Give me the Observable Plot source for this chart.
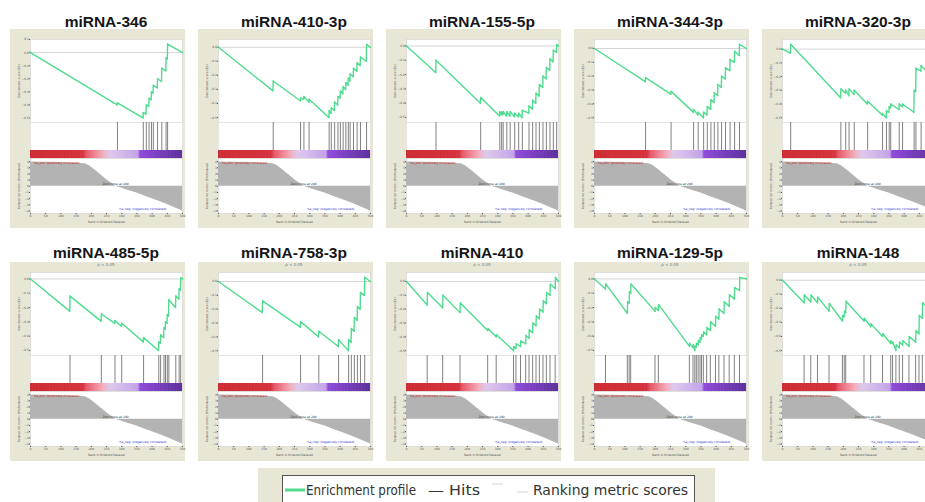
<!DOCTYPE html>
<html><head><meta charset="utf-8">
<script src="https://cdn.jsdelivr.net/npm/d3@7"></script>
<script src="https://cdn.jsdelivr.net/npm/@observablehq/plot@0.6"></script>
<style>
html,body{margin:0;padding:0;background:#fff;width:925px;height:502px;overflow:hidden;}
#root{position:relative;width:925px;height:502px;overflow:hidden;}
.bg{position:absolute;background:#e8e7d6;}
.title{position:absolute;font-family:"Liberation Sans",Arial,sans-serif;font-weight:bold;font-size:15.5px;line-height:16px;color:#161616;text-align:center;white-space:nowrap;}
.sub{position:absolute;font-family:"DejaVu Sans",sans-serif;font-size:4px;line-height:4px;color:#777;text-align:center;white-space:nowrap;}
</style></head><body><div id="root"></div>
<script>
// ---------- data ----------
const titles = ["miRNA-346","miRNA-410-3p","miRNA-155-5p","miRNA-344-3p","miRNA-320-3p",
                "miRNA-485-5p","miRNA-758-3p","miRNA-410","miRNA-129-5p","miRNA-148"];

// running enrichment score vertices [rank, ES]
const es346 = [[0,0],[285,-0.40],[286,-0.385],[370,-0.5],[371,-0.46],[380,-0.47],[381,-0.40],[389,-0.41],[390,-0.35],[397,-0.36],[398,-0.30],[403,-0.31],[404,-0.25],[417,-0.27],[418,-0.20],[431,-0.22],[432,-0.12],[445,-0.14],[446,-0.04],[450,-0.05],[451,0.065],[500,0]];
const es4103p = [[0,0],[179,-0.31],[180,-0.24],[269,-0.38],[270,-0.36],[280,-0.37],[281,-0.35],[297,-0.39],[298,-0.37],[363,-0.5],[364,-0.45],[370,-0.47],[371,-0.43],[381,-0.45],[382,-0.39],[392,-0.41],[393,-0.35],[400,-0.36],[401,-0.31],[409,-0.33],[410,-0.28],[418,-0.30],[419,-0.25],[426,-0.27],[427,-0.22],[432,-0.24],[433,-0.19],[443,-0.21],[444,-0.15],[455,-0.17],[456,-0.11],[466,-0.13],[467,-0.07],[486,-0.10],[487,0.02],[500,0]];
const es1555p = [[0,0],[96,-0.185],[97,-0.10],[243,-0.40],[244,-0.36],[306,-0.49],[307,-0.46],[312,-0.48],[313,-0.46],[317,-0.48],[318,-0.46],[329,-0.49],[330,-0.46],[340,-0.49],[341,-0.46],[355,-0.495],[356,-0.47],[368,-0.495],[369,-0.47],[380,-0.5],[381,-0.45],[402,-0.47],[403,-0.42],[414,-0.44],[415,-0.38],[425,-0.40],[426,-0.33],[436,-0.35],[437,-0.27],[448,-0.29],[449,-0.21],[459,-0.23],[460,-0.15],[471,-0.17],[472,-0.09],[482,-0.11],[483,-0.03],[493,-0.045],[494,0.01],[500,0]];
const es3443p = [[0,0],[167,-0.24],[168,-0.21],[251,-0.33],[252,-0.31],[325,-0.46],[326,-0.44],[340,-0.48],[341,-0.46],[358,-0.5],[359,-0.46],[370,-0.48],[371,-0.42],[382,-0.44],[383,-0.37],[393,-0.39],[394,-0.32],[405,-0.34],[406,-0.26],[417,-0.28],[418,-0.20],[430,-0.22],[431,-0.14],[445,-0.16],[446,-0.08],[460,-0.10],[461,-0.02],[476,-0.05],[477,0.03],[500,0]];
const es3203p = [[0,0],[26,-0.03],[27,0.035],[191,-0.355],[192,-0.29],[207,-0.32],[208,-0.30],[218,-0.34],[219,-0.29],[235,-0.33],[236,-0.30],[279,-0.40],[280,-0.38],[328,-0.48],[329,-0.47],[341,-0.5],[342,-0.45],[350,-0.46],[351,-0.42],[355,-0.43],[356,-0.40],[383,-0.44],[384,-0.40],[394,-0.42],[395,-0.40],[432,-0.46],[433,-0.30],[438,-0.31],[439,-0.14],[455,-0.16],[456,-0.12],[477,-0.17],[478,-0.08],[488,-0.10],[489,0.02],[500,0]];
const es4855p = [[0,0],[129,-0.225],[130,-0.12],[232,-0.295],[233,-0.245],[277,-0.31],[278,-0.29],[299,-0.33],[300,-0.31],[371,-0.44],[372,-0.41],[421,-0.5],[422,-0.44],[427,-0.45],[428,-0.39],[438,-0.41],[439,-0.34],[443,-0.35],[444,-0.30],[449,-0.31],[450,-0.25],[454,-0.26],[455,-0.145],[477,-0.20],[478,-0.12],[488,-0.14],[489,-0.07],[493,-0.08],[494,0.01],[500,0]];
const es7583p = [[0,0],[144,-0.225],[145,-0.14],[269,-0.33],[270,-0.29],[329,-0.40],[330,-0.36],[394,-0.47],[395,-0.42],[427,-0.5],[428,-0.42],[436,-0.44],[437,-0.34],[446,-0.36],[447,-0.26],[456,-0.28],[457,-0.18],[466,-0.20],[467,-0.08],[480,-0.10],[481,0.03],[500,0]];
const es410 = [[0,0],[68,-0.17],[69,-0.08],[119,-0.19],[120,-0.10],[176,-0.225],[177,-0.155],[267,-0.355],[268,-0.34],[295,-0.40],[296,-0.385],[352,-0.5],[353,-0.47],[360,-0.485],[361,-0.45],[375,-0.47],[376,-0.43],[392,-0.45],[393,-0.39],[403,-0.41],[404,-0.35],[415,-0.37],[416,-0.30],[426,-0.32],[427,-0.25],[437,-0.27],[438,-0.20],[449,-0.22],[450,-0.14],[460,-0.16],[461,-0.08],[472,-0.10],[473,-0.02],[489,-0.05],[490,0.03],[500,0]];
const es1295p = [[0,0],[36,-0.07],[37,-0.035],[108,-0.24],[109,-0.16],[114,-0.17],[115,-0.09],[119,-0.10],[120,-0.035],[199,-0.225],[200,-0.20],[210,-0.22],[211,-0.18],[312,-0.47],[313,-0.45],[324,-0.48],[325,-0.46],[330,-0.5],[331,-0.47],[335,-0.475],[336,-0.45],[341,-0.46],[342,-0.43],[347,-0.44],[348,-0.41],[352,-0.42],[353,-0.39],[358,-0.40],[359,-0.37],[369,-0.39],[370,-0.34],[381,-0.36],[382,-0.30],[398,-0.33],[399,-0.26],[409,-0.28],[410,-0.21],[426,-0.24],[427,-0.16],[443,-0.19],[444,-0.11],[460,-0.14],[461,-0.06],[477,-0.08],[478,0.01],[500,0]];
const es148 = [[0,0],[71,-0.16],[72,-0.105],[93,-0.155],[94,-0.105],[115,-0.16],[116,-0.12],[153,-0.22],[154,-0.165],[197,-0.29],[198,-0.25],[203,-0.26],[204,-0.22],[208,-0.23],[209,-0.15],[268,-0.29],[269,-0.27],[290,-0.33],[291,-0.31],[329,-0.40],[330,-0.38],[356,-0.45],[357,-0.43],[362,-0.45],[363,-0.44],[373,-0.5],[374,-0.46],[384,-0.48],[385,-0.44],[395,-0.46],[396,-0.43],[416,-0.47],[417,-0.40],[438,-0.44],[439,-0.36],[449,-0.38],[450,-0.25],[460,-0.27],[461,-0.16],[471,-0.18],[472,-0.07],[482,-0.09],[483,0.02],[500,0]];

// hit positions (rank)
const hits346 = [286,371,381,390,398,404,418,432,446,451];
const hits4103p = [180,270,281,298,364,371,382,393,401,410,419,427,433,444,456,467,487];
const hits1555p = [97,244,307,313,318,330,341,356,369,381,403,415,426,437,449,460,472,483,494];
const hits3443p = [168,252,326,341,359,371,383,394,406,418,431,446,461,477];
const hits3203p = [27,192,208,219,236,280,329,342,351,356,384,395,433,439,456,478,489];
const hits4855p = [130,233,278,300,372,422,428,439,444,450,455,478,489,494];
const hits7583p = [145,270,330,395,428,437,447,457,467,481];
const hits410 = [68,119,176,267,295,352,360,375,392,403,415,426,437,449,460,472,489];
const hits1295p = [36,108,114,119,199,210,312,324,330,335,341,347,352,358,369,381,398,409,426,443,460,477];
const hits148 = [71,93,115,153,197,203,208,268,290,329,356,362,373,384,395,416,438,449,460,471,482];

// ranked list metric (shared ranked list)
const metricRank  = [0,50,100,150,180,195,210,225,240,255,270,280,300,325,350,375,400,425,450,475,500];
const metricValue = [3.95,3.9,3.85,3.75,3.65,3.3,2.7,2.1,1.5,0.9,0.4,0,-0.3,-0.7,-1.1,-1.55,-2.0,-2.45,-2.95,-3.45,-4.0];
const zeroCross = 280;
const rankTicks = [0,50,100,150,200,250,300,350,400,450,500];
const metricTicks = [-4,-3,-2,-1,0,1,2,3,4];
const subtitle = "p < 0.05";

const legendLabels = ["Enrichment profile","\u2014 Hits","Ranking metric scores"];

const esList = [es346,es4103p,es1555p,es3443p,es3203p,es4855p,es7583p,es410,es1295p,es148];
const hitsList = [hits346,hits4103p,hits1555p,hits3443p,hits3203p,hits4855p,hits7583p,hits410,hits1295p,hits148];
const metric = metricRank.map((r,i)=>({rank:r, value:metricValue[i]}));

// ---------- layout ----------
const root = document.getElementById("root");
const W = 175, PL = 20, PR = 3;
const MT = 10, H_ES = 83, H_HIT = 28, H_BAR = 8, H_RANK = 55, MB = 13;
const GREEN = "#4fdc8f";
const baseStyle = {background:"transparent", fontSize:"3px", fontFamily:"'DejaVu Sans',sans-serif", color:"#555", overflow:"visible"};

function place(el, left, top){
  el.style.position = "absolute";
  el.style.left = left + "px";
  el.style.top = top + "px";
  root.appendChild(el);
}

const barBins = d3.range(0, 500, 2);

titles.forEach((title, i) => {
  const col = i % 5, row = Math.floor(i / 5);
  const left = 10 + col * 188, top = row ? 262 : 29;
  const es = esList[i], hits = hitsList[i];

  const bg = document.createElement("div");
  bg.className = "bg";
  bg.style.left = left + "px"; bg.style.top = top + "px";
  bg.style.width = W + "px"; bg.style.height = (MT + H_ES + H_HIT + H_BAR + H_RANK + MB + 2) + "px";
  root.appendChild(bg);

  const t = document.createElement("div");
  t.className = "title"; t.textContent = title;
  t.style.left = (left + PL - 20) + "px"; t.style.width = (W - PL - PR + 40) + "px";
  t.style.top = (top - (row ? 17 : 15.5)) + "px";
  root.appendChild(t);

  if (row) {
    const s = document.createElement("div");
    s.className = "sub"; s.textContent = subtitle;
    s.style.left = (left + PL) + "px"; s.style.width = (W - PL - PR) + "px";
    s.style.top = (top + 1) + "px";
    root.appendChild(s);
  }

  const ext = d3.extent(es, d => d[1]);
  const esPlot = Plot.plot({
    width: W, height: MT + H_ES, marginTop: MT, marginBottom: 0, marginLeft: PL, marginRight: PR,
    style: baseStyle,
    x: {domain: [0, 500], axis: null},
    y: {domain: [ext[0] - 0.035, Math.max(ext[1], 0) + 0.035], axis: null},
    marks: [
      Plot.frame({fill: "white", stroke: "#d0d0d0", strokeWidth: 0.6}),
      Plot.ruleY([0], {stroke: "#b8b8b8", strokeWidth: 0.6}),
      Plot.axisY({ticks: 8, tickFormat: ".1f", tickSize: 1, tickPadding: 0.5, label: "Enrichment score (ES)", labelAnchor: "center", labelOffset: 13, labelArrow: "none"}),
      Plot.line(es, {x: d => d[0], y: d => d[1], stroke: GREEN, strokeWidth: 1.4}),
      Plot.dot(es, {x: d => d[0], y: d => d[1], r: 0.75, fill: GREEN, stroke: null})
    ]
  });
  place(esPlot, left, top);

  const hitPlot = Plot.plot({
    width: W, height: H_HIT, marginTop: 0, marginBottom: 0, marginLeft: PL, marginRight: PR,
    style: baseStyle,
    x: {domain: [0, 500], axis: null},
    marks: [
      Plot.frame({fill: "white", stroke: "#dcdcdc", strokeWidth: 0.5}),
      Plot.ruleX(hits, {x: d => d, stroke: "#4a4a4a", strokeWidth: 0.7})
    ]
  });
  place(hitPlot, left, top + MT + H_ES);

  const barPlot = Plot.plot({
    width: W, height: H_BAR, marginTop: 0, marginBottom: 0, marginLeft: PL, marginRight: PR,
    style: baseStyle,
    x: {domain: [0, 500], axis: null},
    color: {type: "linear", interpolate: "rgb",
            domain: [0, 175, 185, 240, 262, 355, 362, 500],
            range: ["#c8000e", "#d2081a", "#e8364e", "#f4a0b6", "#dcc2f2", "#bb94ee", "#7a26dc", "#3c0690"]},
    marks: [
      Plot.rect(barBins, {x1: d => d, x2: d => d + 2.2, fill: d => d + 1})
    ]
  });
  place(barPlot, left, top + MT + H_ES + H_HIT);

  const rankPlot = Plot.plot({
    width: W, height: H_RANK + MB, marginTop: 0, marginBottom: MB, marginLeft: PL, marginRight: PR,
    style: baseStyle,
    x: {domain: [0, 500], axis: null},
    y: {domain: [-4.4, 4.5], axis: null},
    marks: [
      Plot.frame({fill: "white", stroke: "#d0d0d0", strokeWidth: 0.6}),
      Plot.areaY(metric, {x: "rank", y: "value", fill: "#b3b3b3"}),
      Plot.axisY({ticks: metricTicks, tickFormat: "d", tickSize: 1, tickPadding: 0.5, label: "Ranked list metric (PreRanked)", labelAnchor: "center", labelOffset: 13, labelArrow: "none"}),
      Plot.axisX({ticks: rankTicks, tickSize: 1, tickPadding: 0.5, label: "Rank in Ordered Dataset", labelAnchor: "center", labelOffset: 9, labelArrow: "none"}),
      Plot.text(["'na_pos' (positively correlated)"], {text: d => d, frameAnchor: "top-left", dx: 3, dy: 3, fill: "#cc1111", fontSize: 3}),
      Plot.text([zeroCross], {x: d => d, y: () => 0, text: d => `Zero cross at ${d}`, dy: -2, fill: "#333", fontSize: 3}),
      Plot.text(["'na_neg' (negatively correlated)"], {text: d => d, frameAnchor: "bottom-right", dx: -16, dy: -4, fill: "#3333cc", fontSize: 3})
    ]
  });
  place(rankPlot, left, top + MT + H_ES + H_HIT + H_BAR);
});

// ---------- legend ----------
const lg = d3.create("svg").attr("width", 460).attr("height", 34)
  .style("position", "absolute").style("left", "258px").style("top", "468px");
lg.append("rect").attr("x", 0).attr("y", 0).attr("width", 457).attr("height", 34).attr("fill", "#e8e7d6");
lg.append("rect").attr("x", 24.5).attr("y", 7.5).attr("width", 412).attr("height", 30).attr("fill", "#fff").attr("stroke", "#555");
lg.append("line").attr("x1", 27).attr("x2", 47).attr("y1", 22).attr("y2", 22).attr("stroke", GREEN).attr("stroke-width", 3);
lg.append("line").attr("x1", 234).attr("x2", 245).attr("y1", 16).attr("y2", 16).attr("stroke", "#d4d4d4").attr("stroke-width", 1);
lg.append("line").attr("x1", 259).attr("x2", 270).attr("y1", 24).attr("y2", 24).attr("stroke", "#d4d4d4").attr("stroke-width", 1);
const lx = [48, 170, 275], lw = [110, 52, 155];
legendLabels.forEach((s, k) => {
  lg.append("text").attr("x", lx[k]).attr("y", 27).attr("textLength", lw[k]).attr("lengthAdjust", "spacingAndGlyphs")
    .attr("font-family", "'DejaVu Sans Condensed','DejaVu Sans',sans-serif").attr("font-size", 13.5).attr("fill", "#333").text(s);
});
root.appendChild(lg.node());
</script></body></html>
